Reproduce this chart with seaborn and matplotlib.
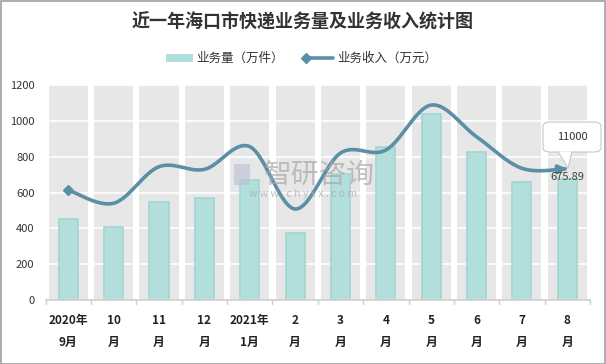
import numpy as np
import matplotlib
matplotlib.use("Agg")
import matplotlib.pyplot as plt
from matplotlib.patches import Rectangle, FancyBboxPatch, Polygon
import seaborn as sns

sns.set_theme(style="white")
plt.rcParams['font.family'] = ['Noto Sans CJK SC', 'DejaVu Sans']

# data
months = ["2020年\n9月", "10\n月", "11\n月", "12\n月", "2021年\n1月", "2\n月",
          "3\n月", "4\n月", "5\n月", "6\n月", "7\n月", "8\n月"]
volume = [452, 409, 549, 571, 670, 376, 702, 856, 1036, 824, 660, 675.89]   # 业务量（万件）
revenue = [614, 540, 744, 729, 856, 508, 820, 837, 1088, 911, 735, 733]      # 业务收入（万元）

bar_color = "#B2DFDB"
line_color = "#5B8FA6"

fig = plt.figure(figsize=(6.06, 3.64), dpi=100)
ax = fig.add_axes([0.0752, 0.1758, 0.8984, 0.5907])

# gray column bands behind each category
for i in range(len(months)):
    ax.add_patch(Rectangle((i - 0.43, 0), 0.86, 1200, color="#E7E7E7", zorder=0, lw=0))
for yv in range(200, 1201, 200):
    ax.axhline(yv, color="white", lw=1.2, zorder=0.5)

sns.barplot(x=list(range(len(months))), y=volume, ax=ax, color=bar_color,
            width=0.42, edgecolor="#A3D6D1", linewidth=1.2, saturation=1, zorder=2)


# smooth curve through the revenue points (Catmull-Rom, like Excel's smoothed line)
def smooth(xs, ys, n=30):
    px = np.r_[xs[0], xs, xs[-1]]
    py = np.r_[ys[0], ys, ys[-1]]
    ox, oy = [], []
    t = np.linspace(0, 1, n)
    for k in range(1, len(px) - 2):
        for p, o in ((px, ox), (py, oy)):
            p0, p1, p2, p3 = p[k - 1], p[k], p[k + 1], p[k + 2]
            o.extend(0.5 * ((2 * p1) + (-p0 + p2) * t + (2 * p0 - 5 * p1 + 4 * p2 - p3) * t ** 2
                            + (-p0 + 3 * p1 - 3 * p2 + p3) * t ** 3))
    return np.array(ox), np.array(oy)


xs = np.arange(len(revenue), dtype=float)
sx, sy = smooth(xs, np.array(revenue, dtype=float))
ax.plot(sx[:-4], sy[:-4], color=line_color, lw=2.6, zorder=3, solid_capstyle="round")
ax.plot([xs[0]], [revenue[0]], marker="D", ms=5.5, color=line_color, zorder=3)
ax.annotate("", xy=(sx[-1], sy[-1]), xytext=(sx[-6], sy[-6]),
            arrowprops=dict(arrowstyle="-|>", color=line_color, lw=2.6, mutation_scale=12), zorder=4)

# labels at the last month
ax.text(11, 675.89 + 8, "675.89", ha="center", va="center", fontsize=8, color="#404040", zorder=5)

ax.set_xlim(-0.5, 11.5)
ax.set_ylim(0, 1200)
ax.set_yticks(range(0, 1201, 200))
ax.set_yticklabels([str(v) for v in range(0, 1201, 200)], fontsize=8, color="#333333")
ax.set_xticks(range(len(months)))
ax.set_xticklabels(months, fontsize=8.5, fontweight="bold", color="#222222", linespacing=1.9)
ax.tick_params(axis="x", length=0, pad=10)
ax.tick_params(axis="y", length=0, pad=8)
for s in ["top", "right", "left"]:
    ax.spines[s].set_visible(False)
ax.spines["bottom"].set_color("#D0D0D0")
for i in range(len(months) + 1):
    ax.plot([i - 0.5, i - 0.5], [0, -0.018], transform=ax.get_xaxis_transform(),
            color="#D0D0D0", lw=1, clip_on=False)

# callout box "11000"
fig.patches.append(FancyBboxPatch((543 / 606, 1 - 152 / 364), 58 / 606, 30 / 364,
                                  boxstyle="round,pad=0,rounding_size=0.012",
                                  transform=fig.transFigure, fc="white", ec="#C8C8C8", lw=0.8))
fig.patches.append(Polygon([(558 / 606, 1 - 151.5 / 364), (568 / 606, 1 - 168 / 364), (572 / 606, 1 - 151.5 / 364)],
                           closed=False, transform=fig.transFigure, fc="white", ec="#C8C8C8", lw=0.8))
fig.text(572 / 606, 1 - 137 / 364, "11000", ha="center", va="center", fontsize=8, color="#333333")

# watermark
fig.text(319 / 606, 1 - 175 / 364, "智研咨询", ha="center", va="center", fontsize=20,
         color="#A8A8A8", alpha=0.7, zorder=10)
fig.text(303 / 606, 1 - 194 / 364, "w w w . c h y x x . c o m", ha="center", va="center", fontsize=7.5,
         color="#A8A8A8", alpha=0.7, zorder=10)
fig.patches.append(Rectangle((234 / 606, 1 - 185 / 364), 16 / 606, 21 / 364, transform=fig.transFigure,
                             fc="#B8C0D4", ec="none", alpha=0.6, zorder=10))

# title and legend
fig.text(0.5, 1 - 22 / 364, "近一年海口市快递业务量及业务收入统计图", ha="center", va="center",
         fontsize=13, fontweight="bold", color="#333333")
fig.patches.append(Rectangle((166 / 606, 1 - 62 / 364), 27 / 606, 8 / 364, transform=fig.transFigure,
                             fc=bar_color, ec="none"))
fig.text(196 / 606, 1 - 58 / 364, "业务量（万件）", ha="left", va="center", fontsize=9, color="#333333")
fig.lines.append(plt.Line2D([306 / 606, 333 / 606], [1 - 58 / 364] * 2, transform=fig.transFigure,
                            color=line_color, lw=2.6, marker="D", ms=5, markevery=[0]))
fig.text(337 / 606, 1 - 58 / 364, "业务收入（万元）", ha="left", va="center", fontsize=9, color="#333333")

# outer border
fig.patches.append(Rectangle((0.5 / 606, 0.5 / 364), 604.5 / 606, 362.5 / 364, transform=fig.transFigure,
                             fc="none", ec="#A0A0A0", lw=1.2))

fig.savefig("out.png", dpi=100)
